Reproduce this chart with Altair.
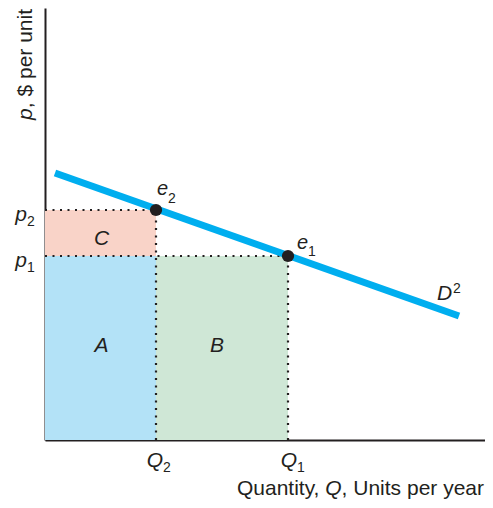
import altair as alt
import pandas as pd

# ---- values (arbitrary units) ----
q_names = ["Q2", "Q1"]
q_values = [111, 243]
p_names = ["p2", "p1"]
p_values = [230, 184]
demand_q = [10, 414]
demand_p = [267, 124]
eq_names = ["e2", "e1"]
eq_q = [111, 243]
eq_p = [230, 184]
area_names = ["A", "B", "C"]
area_colors = ["#b3e2f7", "#cfe7d6", "#f9d3c8"]
x_max = 440
y_max = 432

Q2, Q1 = q_values
p2, p1 = p_values

FONT = "Liberation Sans, Arial, Helvetica, sans-serif"
INK = "#231f20"
BLUE = "#00aeef"
LS = 21   # label font size
SS = 14   # subscript font size

xs = alt.Scale(domain=[0, x_max], nice=False, zero=False)
ys = alt.Scale(domain=[0, y_max], nice=False, zero=False)
ax = alt.Axis(labels=False, ticks=False, grid=False, title=None,
              domainColor=INK, domainWidth=2)


def X(f):
    return alt.X(f, type="quantitative", scale=xs, axis=ax)


def Y(f):
    return alt.Y(f, type="quantitative", scale=ys, axis=ax)


# areas
rects = pd.DataFrame({
    "name": area_names,
    "x0": [0, Q2, 0],
    "x1": [Q2, Q1, Q2],
    "y0": [0, 0, p1],
    "y1": [p1, p1, p2],
})
rect_layer = alt.Chart(rects).mark_rect(opacity=1).encode(
    x=X("x0"), x2="x1", y=Y("y0"), y2="y1",
    color=alt.Color("name:N", scale=alt.Scale(domain=area_names, range=area_colors), legend=None),
)

# dotted guide lines
guides = pd.DataFrame({
    "x0": [0, 0, Q2, Q1],
    "x1": [Q2, Q1, Q2, Q1],
    "y0": [p2, p1, 0, 0],
    "y1": [p2, p1, p2, p1],
})
guide_layer = alt.Chart(guides).mark_rule(
    color=INK, strokeWidth=2.2, strokeDash=[2, 5.5]
).encode(x=X("x0"), x2="x1", y=Y("y0"), y2="y1")

# demand curve
demand = pd.DataFrame({"q": demand_q, "p": demand_p})
demand_layer = alt.Chart(demand).mark_line(
    color=BLUE, strokeWidth=7, strokeCap="butt"
).encode(x=X("q"), y=Y("p"))

# equilibrium points
eq = pd.DataFrame({"name": eq_names, "q": eq_q, "p": eq_p})
eq_layer = alt.Chart(eq).mark_circle(size=150, color=INK, opacity=1).encode(
    x=X("q"), y=Y("p")
)


def txt(xv, yv, text, dx=0, dy=0, size=LS, italic=False, align="left"):
    df = pd.DataFrame({"x": [xv], "y": [yv], "t": [text]})
    return alt.Chart(df).mark_text(
        dx=dx, dy=dy, fontSize=size, fontStyle="italic" if italic else "normal",
        align=align, baseline="alphabetic", font=FONT, color=INK,
    ).encode(x=X("x"), y=Y("y"), text="t:N")


labels = [
    # equilibrium labels
    txt(eq_q[0], eq_p[0], eq_names[0][0], dx=1, dy=-15, size=20, italic=True),
    txt(eq_q[0], eq_p[0], eq_names[0][1], dx=12, dy=-7, size=SS),
    txt(eq_q[1], eq_p[1], eq_names[1][0], dx=9, dy=-7, size=20, italic=True),
    txt(eq_q[1], eq_p[1], eq_names[1][1], dx=20, dy=0, size=SS),
    # demand label
    txt(demand_q[-1], demand_p[-1], "D", dx=-22, dy=-16, italic=True),
    txt(demand_q[-1], demand_p[-1], "2", dx=-6, dy=-23, size=SS),
    # area labels
    txt(Q2 / 2, p1 / 2, area_names[0], dx=1, dy=4, italic=True, align="center"),
    txt((Q2 + Q1) / 2, p1 / 2, area_names[1], dx=-5, dy=4, italic=True, align="center"),
    txt(Q2 / 2, (p1 + p2) / 2, area_names[2], dx=1, dy=12, italic=True, align="center"),
]
for nm, pv in zip(p_names, p_values):
    labels.append(txt(0, pv, nm[0], dx=-18, dy=11, italic=True, align="right"))
    labels.append(txt(0, pv, nm[1], dx=-18, dy=16, size=SS))
for nm, qv, ddx in zip(q_names, q_values, [7, 9]):
    labels.append(txt(qv, 0, nm[0], dx=ddx, dy=27, italic=True, align="right"))
    labels.append(txt(qv, 0, nm[1], dx=ddx, dy=32, size=SS))

# x axis title: "Quantity, Q, Units per year"
TS = 21
w_tail = 6.78 * TS
w_q = 0.778 * TS
w_sp = 0.278 * TS
labels += [
    txt(x_max, 0, ", Units per year", dx=-1, dy=55, size=TS, align="right"),
    txt(x_max, 0, "Q", dx=-1 - w_tail, dy=55, size=TS, italic=True, align="right"),
    txt(x_max, 0, "Quantity,", dx=-1 - w_tail - w_q - w_sp, dy=55, size=TS, align="right"),
]

# y axis title: "p, $ per unit" (rotated)
w_ytail = 4.725 * TS


def ytitle(text, ypix, italic):
    df = pd.DataFrame({"t": [text]})
    return alt.Chart(df).mark_text(
        angle=270, fontSize=TS, fontStyle="italic" if italic else "normal",
        align="right", baseline="alphabetic", font=FONT, color=INK,
    ).encode(x=alt.value(-13), y=alt.value(ypix), text="t:N")


labels += [ytitle(", $ per unit", 1, False), ytitle("p", 1 + w_ytail, True)]

chart = alt.layer(
    rect_layer, guide_layer, demand_layer, eq_layer, *labels
).properties(
    width=x_max, height=y_max,
    padding={"left": 37, "top": 0, "right": 0, "bottom": 60},
    autosize="none",
).configure_view(stroke=None)

chart.save("out.html", embed_options={"renderer": "svg", "actions": False})
